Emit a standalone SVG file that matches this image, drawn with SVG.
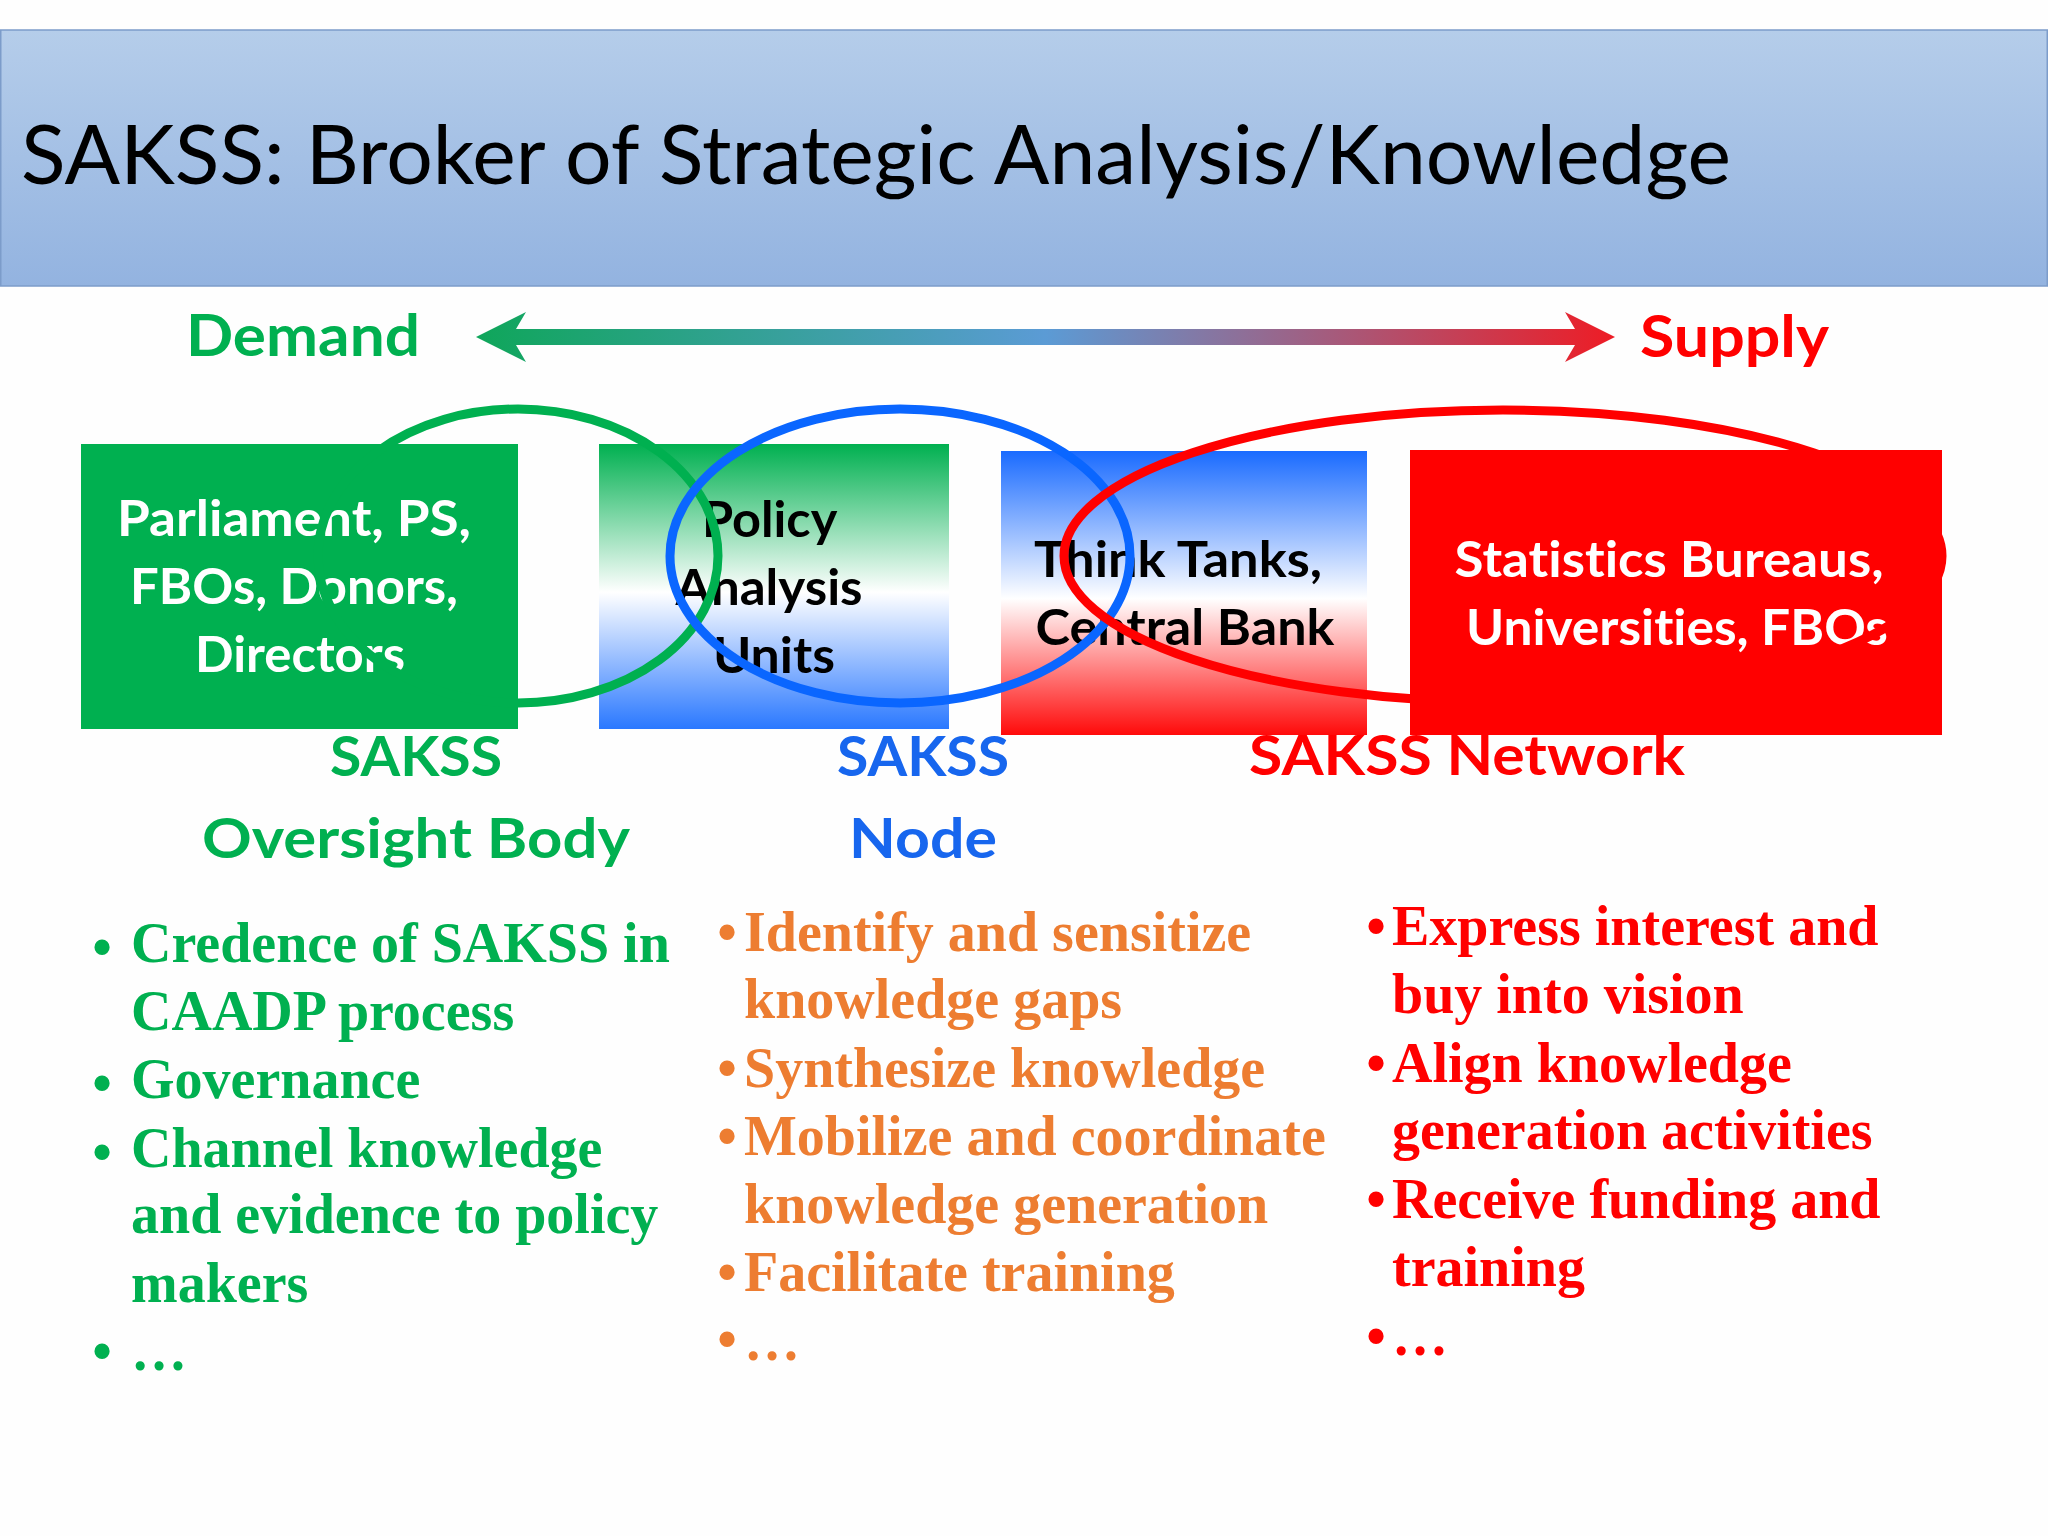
<svg xmlns="http://www.w3.org/2000/svg" width="2048" height="1536" viewBox="0 0 2048 1536">
  <defs>
    <linearGradient id="hdr" x1="0" y1="0" x2="0" y2="1">
      <stop offset="0" stop-color="#b5cdea"/>
      <stop offset="1" stop-color="#93b3e0"/>
    </linearGradient>
    <linearGradient id="arrowGrad" gradientUnits="userSpaceOnUse" x1="476" y1="0" x2="1615" y2="0">
      <stop offset="0" stop-color="#0fa65a"/>
      <stop offset="0.5" stop-color="#5b9bd5"/>
      <stop offset="1" stop-color="#ee1c25"/>
    </linearGradient>
    <linearGradient id="gwb" x1="0" y1="0" x2="0" y2="1">
      <stop offset="0" stop-color="#00b050"/>
      <stop offset="0.52" stop-color="#ffffff"/>
      <stop offset="1" stop-color="#2a78ff"/>
    </linearGradient>
    <linearGradient id="bwr" x1="0" y1="0" x2="0" y2="1">
      <stop offset="0" stop-color="#1a6bff"/>
      <stop offset="0.52" stop-color="#ffffff"/>
      <stop offset="1" stop-color="#ff0a0a"/>
    </linearGradient>
    <style>
      text { font-variant-ligatures: none; }
      .cal { font-family: Lato, "Open Sans", "Liberation Sans", sans-serif; }
      .calb { font-family: Lato, "Open Sans", "Liberation Sans", sans-serif; font-weight: bold; }
      .tnr { font-family: "Liberation Serif", "Times New Roman", serif; font-weight: bold; font-size: 56px; }
      .boxtxt { font-size: 49px; text-anchor: middle; }
      .lbl { font-size: 55px; }
      .green { fill: #00b050; }
      .orange { fill: #ed7d31; }
      .red { fill: #ff0000; }
      .blue { fill: #1766ee; }
      .ring { fill: none; stroke-width: 9; }
    </style>
  </defs>

  <rect x="0" y="0" width="2048" height="1536" fill="#fefefe"/>

  <g id="header">
    <rect x="0.75" y="30" width="2046.5" height="256" fill="url(#hdr)" stroke="#7c9cca" stroke-width="1.5"/>
    <text class="cal" x="21" y="184" font-size="81" fill="#000" textLength="1710" lengthAdjust="spacingAndGlyphs">SAKSS: Broker of Strategic Analysis/Knowledge</text>
  </g>

  <g id="demand">
    <text class="calb green" x="186" y="356" font-size="58" textLength="234" lengthAdjust="spacingAndGlyphs">Demand</text>
  </g>
  <g id="supply">
    <text class="calb red" x="1640" y="357" font-size="58" textLength="189" lengthAdjust="spacingAndGlyphs">Supply</text>
  </g>

  <g id="connectors">
    <path id="demand-supply-arrow" d="M476,337 L526,312 L516,329 L1575,329 L1565,312 L1615,337 L1565,362 L1575,345 L516,345 L526,362 Z" fill="url(#arrowGrad)"/>
  </g>

  <g id="label-network">
    <text class="calb lbl red" x="1249" y="775" textLength="436" lengthAdjust="spacingAndGlyphs">SAKSS Network</text>
  </g>

  <g id="box-parliament">
    <rect x="81" y="444" width="437" height="285" fill="#00b050"/>
    <text class="calb boxtxt" fill="#ffffff">
      <tspan x="300" y="536" textLength="354" lengthAdjust="spacingAndGlyphs">Parliament, PS,</tspan>
      <tspan x="300" y="604" textLength="328" lengthAdjust="spacingAndGlyphs">FBOs, Donors,</tspan>
      <tspan x="300" y="672" textLength="210" lengthAdjust="spacingAndGlyphs">Directors</tspan>
    </text>
  </g>

  <g id="box-policy">
    <rect x="599" y="444" width="350" height="285" fill="url(#gwb)"/>
    <text class="calb boxtxt" fill="#000000">
      <tspan x="775" y="537" textLength="134" lengthAdjust="spacingAndGlyphs">Policy</tspan>
      <tspan x="775" y="605" textLength="187" lengthAdjust="spacingAndGlyphs">Analysis</tspan>
      <tspan x="774" y="673" textLength="122" lengthAdjust="spacingAndGlyphs">Units</tspan>
    </text>
  </g>

  <g id="box-thinktanks">
    <rect x="1001" y="451" width="366" height="284" fill="url(#bwr)"/>
    <text class="calb boxtxt" fill="#000000">
      <tspan x="1184" y="577" textLength="288" lengthAdjust="spacingAndGlyphs">Think Tanks,</tspan>
      <tspan x="1185" y="645" textLength="299" lengthAdjust="spacingAndGlyphs">Central Bank</tspan>
    </text>
  </g>

  <g id="box-statistics">
    <rect x="1410" y="450" width="532" height="285" fill="#ff0000"/>
    <text class="calb boxtxt" fill="#ffffff">
      <tspan x="1675" y="577" textLength="429" lengthAdjust="spacingAndGlyphs">Statistics Bureaus,</tspan>
      <tspan x="1677" y="645" textLength="422" lengthAdjust="spacingAndGlyphs">Universities, FBOs</tspan>
    </text>
  </g>

  <g id="ellipse-oversight">
    <ellipse class="ring" cx="518" cy="556" rx="200" ry="147" stroke="#00b050"/>
  </g>
  <g id="ellipse-node">
    <ellipse class="ring" cx="900" cy="556" rx="230" ry="147" stroke="#0a66ff" stroke-width="10"/>
  </g>
  <g id="ellipse-network">
    <ellipse class="ring" cx="1503" cy="556" rx="439" ry="146" stroke="#ff0000"/>
  </g>

  <g id="label-oversight">
    <text class="calb lbl green" x="330" y="776" textLength="172" lengthAdjust="spacingAndGlyphs">SAKSS</text>
    <text class="calb lbl green" x="202" y="858" textLength="428" lengthAdjust="spacingAndGlyphs">Oversight Body</text>
  </g>
  <g id="label-node">
    <text class="calb lbl blue" x="837" y="776" textLength="172" lengthAdjust="spacingAndGlyphs">SAKSS</text>
    <text class="calb lbl blue" x="849" y="858" textLength="148" lengthAdjust="spacingAndGlyphs">Node</text>
  </g>

  <g id="list-oversight" class="green">
    <text class="tnr" x="102" y="966" font-size="122" text-anchor="middle">•</text>
    <text class="tnr" x="102" y="1102" font-size="122" text-anchor="middle">•</text>
    <text class="tnr" x="102" y="1171" font-size="122" text-anchor="middle">•</text>
    <text class="tnr" x="102" y="1370" font-size="122" text-anchor="middle">•</text>
    <text class="tnr" x="131" y="962">Credence of SAKSS in</text>
    <text class="tnr" x="131" y="1030">CAADP process</text>
    <text class="tnr" x="131" y="1098">Governance</text>
    <text class="tnr" x="131" y="1167">Channel knowledge</text>
    <text class="tnr" x="131" y="1233">and evidence to policy</text>
    <text class="tnr" x="131" y="1302">makers</text>
    <text class="tnr" x="131" y="1370">…</text>
  </g>

  <g id="list-node" class="orange">
    <text class="tnr" x="727" y="951" font-size="66" text-anchor="middle">•</text>
    <text class="tnr" x="727" y="1087" font-size="66" text-anchor="middle">•</text>
    <text class="tnr" x="727" y="1155" font-size="66" text-anchor="middle">•</text>
    <text class="tnr" x="727" y="1291" font-size="66" text-anchor="middle">•</text>
    <text class="tnr" x="727" y="1358" font-size="66" text-anchor="middle">•</text>
    <text class="tnr" x="744" y="951">Identify and sensitize</text>
    <text class="tnr" x="744" y="1018">knowledge gaps</text>
    <text class="tnr" x="744" y="1087">Synthesize knowledge</text>
    <text class="tnr" x="744" y="1155">Mobilize and coordinate</text>
    <text class="tnr" x="744" y="1223">knowledge generation</text>
    <text class="tnr" x="744" y="1291">Facilitate training</text>
    <text class="tnr" x="744" y="1360">…</text>
  </g>

  <g id="list-network" class="red">
    <text class="tnr" x="1376" y="945" font-size="66" text-anchor="middle">•</text>
    <text class="tnr" x="1376" y="1082" font-size="66" text-anchor="middle">•</text>
    <text class="tnr" x="1376" y="1218" font-size="66" text-anchor="middle">•</text>
    <text class="tnr" x="1376" y="1355" font-size="66" text-anchor="middle">•</text>
    <text class="tnr" x="1392" y="945">Express interest and</text>
    <text class="tnr" x="1392" y="1013">buy into vision</text>
    <text class="tnr" x="1392" y="1082">Align knowledge</text>
    <text class="tnr" x="1392" y="1149">generation activities</text>
    <text class="tnr" x="1392" y="1218">Receive funding and</text>
    <text class="tnr" x="1392" y="1286">training</text>
    <text class="tnr" x="1392" y="1355">…</text>
  </g>
</svg>
